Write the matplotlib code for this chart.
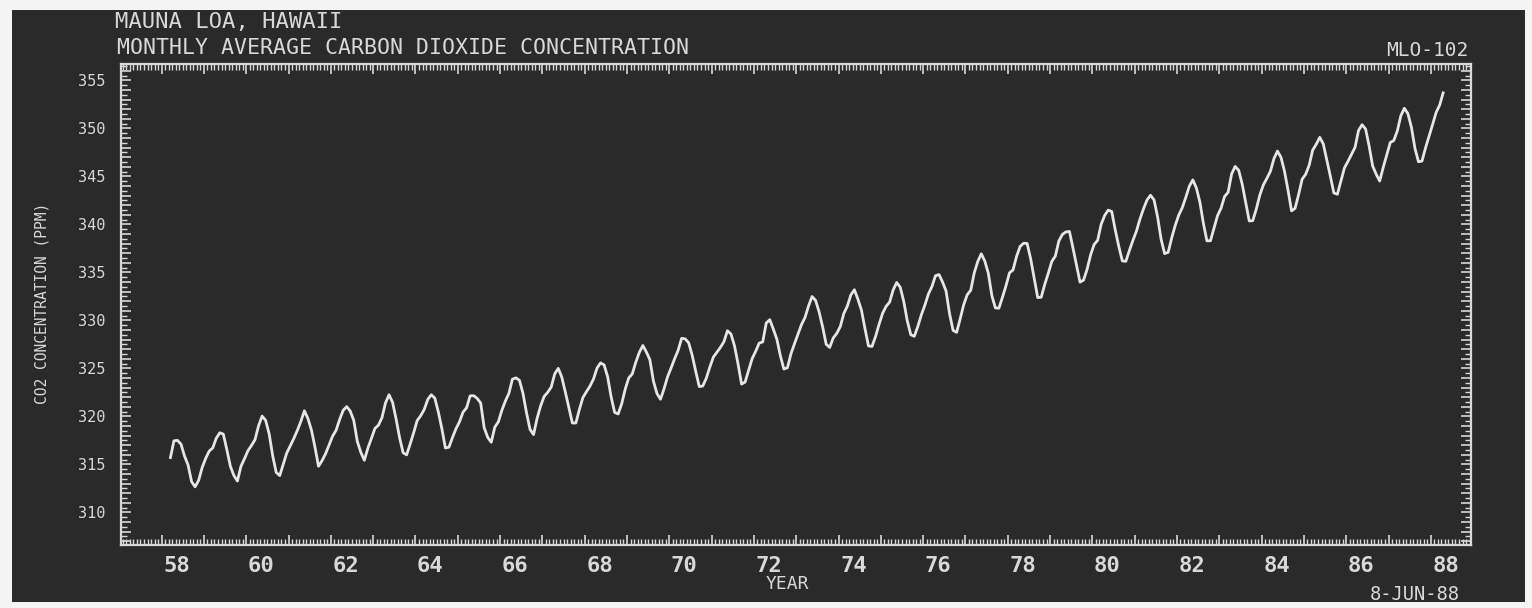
import numpy as np
import matplotlib.pyplot as plt
from matplotlib.patches import Rectangle
from matplotlib.ticker import MultipleLocator, FixedLocator, FuncFormatter
from matplotlib.transforms import ScaledTranslation

# monthly average CO2 (ppm) at Mauna Loa, first value = March 1958
co2_1958_1962 = [315.71, 317.45, 317.50, 317.10, 315.86, 314.93, 313.20, 312.66, 313.33, 314.67,
                 315.62, 316.38, 316.71, 317.72, 318.29, 318.15, 316.54, 314.80, 313.84, 313.26, 314.80, 315.58,
                 316.43, 316.97, 317.58, 319.02, 320.03, 319.59, 318.18, 315.91, 314.16, 313.83, 315.00, 316.19,
                 316.93, 317.70, 318.54, 319.48, 320.58, 319.77, 318.57, 316.79, 314.80, 315.38, 316.10, 317.01,
                 317.94, 318.56, 319.68, 320.63, 321.01, 320.55, 319.58, 317.40, 316.26, 315.42, 316.69, 317.69]
co2_1963_1967 = [318.74, 319.08, 319.86, 321.39, 322.25, 321.47, 319.74, 317.77, 316.21, 315.99, 317.12, 318.31,
                 319.57, 320.07, 320.73, 321.77, 322.25, 321.89, 320.44, 318.70, 316.70, 316.79, 317.79, 318.71,
                 319.44, 320.44, 320.89, 322.13, 322.16, 321.87, 321.39, 318.81, 317.81, 317.30, 318.87, 319.42,
                 320.62, 321.59, 322.39, 323.87, 324.01, 323.75, 322.39, 320.37, 318.64, 318.10, 319.79, 321.08,
                 322.07, 322.50, 323.04, 324.42, 325.00, 324.09, 322.55, 320.92, 319.31, 319.31, 320.72, 321.96]
co2_1968_1972 = [322.57, 323.15, 323.89, 325.02, 325.57, 325.36, 324.14, 322.03, 320.41, 320.25, 321.31, 322.84,
                 324.00, 324.42, 325.64, 326.66, 327.38, 326.70, 325.89, 323.67, 322.38, 321.78, 322.85, 324.11,
                 325.03, 325.99, 326.87, 328.13, 328.07, 327.66, 326.35, 324.69, 323.10, 323.16, 323.98, 325.13,
                 326.17, 326.68, 327.18, 327.78, 328.92, 328.57, 327.34, 325.46, 323.36, 323.57, 324.80, 326.01,
                 326.77, 327.63, 327.75, 329.72, 330.07, 329.09, 328.05, 326.32, 324.93, 325.06, 326.50, 327.55]
co2_1973_1977 = [328.54, 329.56, 330.30, 331.50, 332.48, 332.07, 330.87, 329.31, 327.51, 327.18, 328.16, 328.64,
                 329.35, 330.71, 331.48, 332.65, 333.19, 332.20, 331.07, 329.15, 327.33, 327.28, 328.31, 329.58,
                 330.73, 331.46, 331.90, 333.17, 333.94, 333.45, 331.98, 329.95, 328.50, 328.34, 329.37, 330.58,
                 331.59, 332.75, 333.52, 334.64, 334.77, 334.00, 333.06, 330.68, 328.95, 328.75, 330.15, 331.62,
                 332.66, 333.13, 334.95, 336.13, 336.93, 336.17, 334.88, 332.56, 331.29, 331.27, 332.41, 333.60]
co2_1978_1982 = [334.95, 335.25, 336.66, 337.69, 338.03, 338.01, 336.41, 334.41, 332.37, 332.41, 333.75, 334.90,
                 336.14, 336.69, 338.27, 338.95, 339.21, 339.26, 337.54, 335.75, 333.98, 334.19, 335.31, 336.81,
                 337.90, 338.34, 340.01, 340.93, 341.48, 341.33, 339.40, 337.70, 336.19, 336.15, 337.27, 338.32,
                 339.29, 340.55, 341.61, 342.53, 343.03, 342.54, 340.78, 338.44, 336.95, 337.08, 338.58, 339.88,
                 340.96, 341.73, 342.81, 343.97, 344.63, 343.79, 342.32, 340.09, 338.28, 338.29, 339.60, 340.90]
co2_1983_1988 = [341.68, 342.90, 343.33, 345.25, 346.03, 345.63, 344.19, 342.27, 340.35, 340.38, 341.59, 343.05,
                 344.10, 344.79, 345.52, 346.84, 347.63, 346.98, 345.53, 343.55, 341.40, 341.67, 343.10, 344.70,
                 345.21, 346.16, 347.74, 348.34, 349.06, 348.38, 346.72, 345.02, 343.27, 343.13, 344.49, 345.88,
                 346.56, 347.28, 348.01, 349.77, 350.38, 349.93, 348.16, 346.08, 345.22, 344.51, 345.93, 347.21,
                 348.52, 348.73, 349.73, 351.31, 352.09, 351.53, 350.11, 347.92, 346.52, 346.59, 347.96, 349.16,
                 350.39, 351.64, 352.41, 353.69]
start_year = 58
start_month = 3

year_ticks = list(range(58, 89))
year_labels = ['58', '60', '62', '64', '66', '68', '70', '72', '74', '76', '78', '80', '82', '84', '86', '88']
ppm_labels = ['310', '315', '320', '325', '330', '335', '340', '345', '350', '355']

co2 = co2_1958_1962 + co2_1963_1967 + co2_1968_1972 + co2_1973_1977 + co2_1978_1982 + co2_1983_1988
t = start_year + (start_month - 1 + np.arange(len(co2)) + 0.5) / 12

bg = '#2a2a2a'
fg = '#d8d8d8'
mono = 'DejaVu Sans Mono'

fig = plt.figure(figsize=(15.32, 6.08), dpi=100, facecolor='#f4f4f4')
fig.patches.append(Rectangle((12 / 1532, 6 / 608), 1513 / 1532, 592 / 608,
                             transform=fig.transFigure, facecolor=bg, edgecolor='none', zorder=-10))

ax = fig.add_axes([121 / 1532, 1 - 545 / 608, 1350 / 1532, 481 / 608])
ax.patch.set_alpha(0)
ax.plot(t, co2, color='#e6e6e6', lw=2.0)
ax.set_xlim(57.04, 88.95)
ax.set_ylim(306.6, 356.7)

for s in ax.spines.values():
    s.set_color(fg)
    s.set_linewidth(1.6)

ax.xaxis.set_major_locator(FixedLocator(year_ticks))
ax.xaxis.set_minor_locator(MultipleLocator(1 / 12))
ax.xaxis.set_major_formatter(FuncFormatter(
    lambda v, p: str(int(round(v))) if str(int(round(v))) in year_labels else ''))
ax.yaxis.set_major_locator(MultipleLocator(1))
ax.yaxis.set_minor_locator(MultipleLocator(0.5))
ax.yaxis.set_major_formatter(FuncFormatter(
    lambda v, p: str(int(round(v))) if str(int(round(v))) in ppm_labels else ''))

ax.tick_params(which='both', direction='in', top=True, right=True, color=fg, labelcolor=fg)
ax.tick_params(which='major', length=7, width=1.2)
ax.tick_params(which='minor', length=4, width=1)
ax.tick_params(axis='x', labelsize=16, pad=8)
ax.tick_params(axis='y', labelsize=11, pad=11)
for lab in ax.get_xticklabels():
    lab.set_family(mono)
    lab.set_weight('bold')
    lab.set_transform(lab.get_transform() + ScaledTranslation(0.15, 0, fig.dpi_scale_trans))
for lab in ax.get_yticklabels():
    lab.set_family(mono)

fig.text(115 / 1532, 1 - 22 / 608, 'MAUNA LOA, HAWAII', fontsize=16, family=mono, color=fg, va='center')
fig.text(117 / 1532, 1 - 48 / 608, 'MONTHLY AVERAGE CARBON DIOXIDE CONCENTRATION',
         fontsize=15.5, family=mono, color=fg, va='center')
fig.text(1468 / 1532, 1 - 51 / 608, 'MLO-102', fontsize=14, family=mono, color=fg, ha='right', va='center')
fig.text(42 / 1532, 1 - 303 / 608, 'CO2 CONCENTRATION (PPM)', rotation=90, fontsize=10.5,
         family=mono, color=fg, ha='center', va='center')
fig.text(787 / 1532, 1 - 584 / 608, 'YEAR', fontsize=13, family=mono, color=fg, ha='center', va='center')
fig.text(1460 / 1532, 1 - 594 / 608, '8-JUN-88', fontsize=13.5, family=mono, color=fg, ha='right', va='center')

fig.savefig('out.png', dpi=100, facecolor=fig.get_facecolor())
